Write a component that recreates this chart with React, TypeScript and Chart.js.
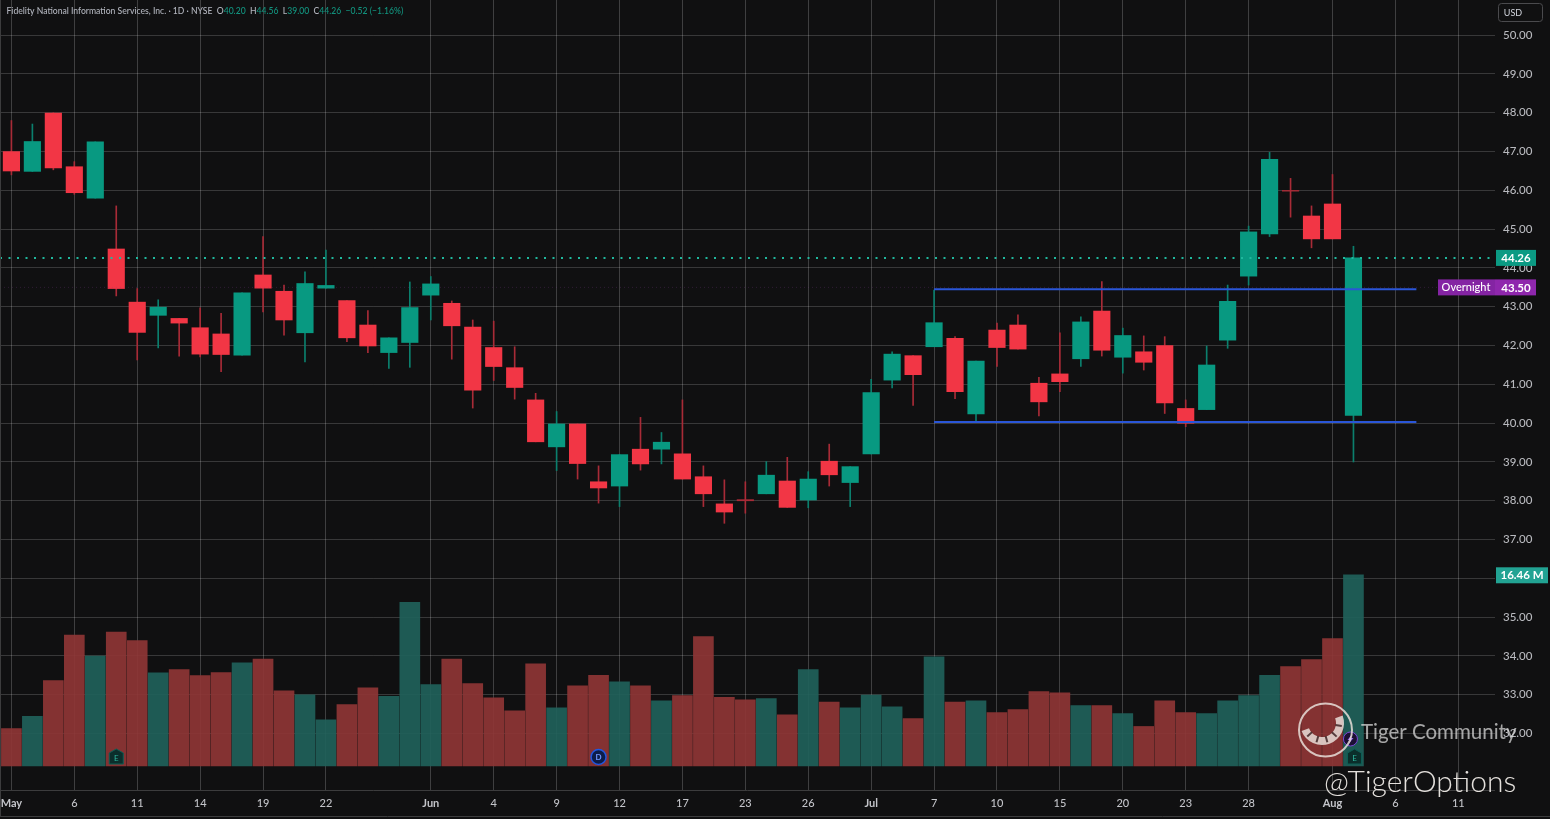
import React, { useEffect, useRef } from "react";
import { Chart, registerables } from "chart.js";

Chart.register(...registerables);

const opens = [47.0,46.49,47.99,46.61,45.8,44.49,43.12,42.78,42.7,42.46,42.3,41.75,43.82,43.4,42.33,43.48,43.16,42.53,41.82,42.08,43.3,43.09,42.48,41.95,41.43,40.6,39.39,39.98,38.49,38.38,39.33,39.33,39.21,38.62,37.92,38.03,38.18,38.51,38.02,39.02,38.47,39.21,41.11,41.74,41.97,42.19,40.24,42.4,42.53,41.03,41.27,41.66,42.89,41.7,41.84,42.0,40.38,40.35,42.14,43.79,44.88,46.0,45.34,45.65,40.2];
const closes = [46.5,47.26,46.58,45.94,47.25,43.47,42.34,42.99,42.58,41.78,41.77,43.36,43.48,42.66,43.6,43.55,42.2,41.99,42.2,42.98,43.59,42.51,40.85,41.46,40.92,39.52,39.98,38.96,38.33,39.19,38.95,39.51,38.56,38.18,37.71,38.0,38.66,37.83,38.56,38.67,38.88,40.79,41.78,41.25,42.59,40.81,41.6,41.95,41.91,40.55,41.07,42.61,41.88,42.26,41.57,40.52,40.0,41.5,43.14,44.93,46.8,45.98,44.75,44.75,44.26];
const highs = [47.8,47.71,48.0,46.74,47.25,45.6,43.47,43.18,42.7,42.97,42.83,43.36,44.81,43.56,43.9,44.46,43.16,42.9,42.2,43.64,43.78,43.15,42.66,42.63,41.97,40.77,40.3,39.98,38.9,39.19,40.15,39.76,40.6,38.9,38.54,38.49,39.01,39.12,38.75,39.46,38.88,41.13,41.84,41.74,43.43,42.23,41.6,42.58,42.79,41.18,42.33,42.74,43.65,42.45,42.25,42.23,40.6,41.99,43.56,45.08,46.98,46.31,45.6,46.41,44.56];
const lows = [46.4,46.49,46.53,45.9,45.8,43.28,41.63,41.94,41.73,41.71,41.33,41.75,42.87,42.27,41.58,43.48,42.1,41.82,41.41,41.44,42.66,41.65,40.39,41.1,40.62,39.52,38.78,38.56,37.94,37.85,38.79,38.95,38.56,37.85,37.42,37.68,38.18,37.83,37.82,38.38,37.85,39.21,40.91,40.46,41.97,40.63,40.04,41.46,41.91,40.19,40.81,41.46,41.73,41.29,41.37,40.25,39.91,40.35,41.93,43.56,44.81,45.31,44.52,44.75,39.0];
const volumes = [3.22,4.28,7.36,11.26,9.45,11.52,10.8,8.02,8.3,7.79,8.05,8.88,9.2,6.47,6.12,3.97,5.29,6.72,6.0,14.08,7.01,9.2,7.1,5.86,4.74,8.8,5.0,6.9,7.8,7.25,6.9,5.6,6.05,11.13,5.9,5.7,5.8,4.4,8.3,5.5,5.0,6.1,5.1,4.07,9.4,5.5,5.6,4.6,4.85,6.4,6.3,5.2,5.2,4.5,3.4,5.6,4.6,4.5,5.6,6.05,7.8,8.55,9.15,10.96,16.46];

const xTickIndex = [0,3,6,9,12,15,20,23,26,29,32,35,38,41,44,47,50,53,56,59,63,66,69];
const xTickLabels = ["May","6","11","14","19","22","Jun","4","9","12","17","23","26","Jul","7","10","15","20","23","28","Aug","6","11"];
const monthLabels = ["May","Jun","Jul","Aug"];
const priceTicks = [32,33,34,35,36,37,38,39,40,41,42,43,44,45,46,47,48,49,50];

const rangeTop = 43.45;
const rangeBottom = 40.03;
const rangeSpan = [44, 67];
const lastPrice = 44.26;
const overnightPrice = 43.5;
const lastVolume = 16.46;
const earningsBars = [5, 64];
const dividendBars = [28];
const splitBars = [64];

const xMin = -0.544;
const xMax = 70.75;
const yMin = 30.546;
const yMax = 50.907;
const vMin = -2.07;
const vMax = 65.95;

const BG = "#101011";
const RED = "#f23645";
const GREEN = "#089981";
const FONT = "Lato, 'Open Sans', sans-serif";

const up = (i: number) => closes[i] >= opens[i];
const idx = opens.map((_, i) => i);
const doji = (i: number) => Math.abs(closes[i] - opens[i]) < 0.05 && !up(i);

const zeroPadding = (s: any) => {
  s.paddingLeft = 0;
  s.paddingRight = 0;
  s.paddingTop = 0;
  s.paddingBottom = 0;
};

const tagsPlugin = {
  id: "tags",
  afterDraw(chart: any) {
    const { ctx, scales } = chart;
    const y = scales.y;
    const x = scales.x;
    const v = scales.v;
    ctx.save();

    // frame
    ctx.strokeStyle = "#3c3c3d";
    ctx.lineWidth = 1;
    ctx.beginPath();
    ctx.moveTo(0.5, 0);
    ctx.lineTo(0.5, 816);
    ctx.moveTo(0, 790.5);
    ctx.lineTo(1495, 790.5);
    ctx.moveTo(0, 816.5);
    ctx.lineTo(1550, 816.5);
    ctx.stroke();

    // title
    ctx.textBaseline = "middle";
    ctx.textAlign = "left";
    ctx.font = `500 8.6px ${FONT}`;
    const segs: [string, string][] = [
      ["Fidelity National Information Services, Inc. · 1D · NYSE  ", "#b2b5be"],
      ["O", "#b2b5be"], ["40.20 ", "#12947f"],
      [" H", "#b2b5be"], ["44.56 ", "#12947f"],
      [" L", "#b2b5be"], ["39.00 ", "#12947f"],
      [" C", "#b2b5be"], ["44.26  \u22120.52 (\u22121.16%)", "#12947f"],
    ];
    let tx = 6.5;
    for (const [t, c] of segs) {
      ctx.fillStyle = c;
      ctx.fillText(t, tx, 11);
      tx += ctx.measureText(t).width;
    }

    // USD box
    ctx.strokeStyle = "#4a4a4d";
    ctx.beginPath();
    ctx.roundRect(1498.5, 3.5, 44, 18, 3);
    ctx.stroke();
    ctx.fillStyle = "#d1d4dc";
    ctx.font = `9px ${FONT}`;
    ctx.textAlign = "center";
    ctx.fillText("USD", 1513, 13);

    // last price tag
    const tagFont = `700 11.5px ${FONT}`;
    const yLast = y.getPixelForValue(lastPrice);
    ctx.fillStyle = "#0b9a83";
    ctx.fillRect(1496, yLast - 8, 40, 16);
    ctx.fillStyle = "#fff";
    ctx.font = tagFont;
    ctx.fillText(lastPrice.toFixed(2), 1516, yLast + 0.5);

    // overnight tag
    const yOver = y.getPixelForValue(overnightPrice);
    ctx.fillStyle = "#8424a3";
    ctx.fillRect(1438, yOver - 8, 57, 16);
    ctx.fillStyle = "#8f27ad";
    ctx.fillRect(1495, yOver - 8, 41, 16);
    ctx.fillStyle = "#fff";
    ctx.font = `500 11px ${FONT}`;
    ctx.fillText("Overnight", 1466, yOver);
    ctx.font = tagFont;
    ctx.fillText(overnightPrice.toFixed(2), 1516, yOver + 0.5);

    // volume tag
    const yVol = v.getPixelForValue(lastVolume);
    ctx.fillStyle = "#22a393";
    ctx.fillRect(1496, yVol - 8 + 0.5, 52, 16);
    ctx.fillStyle = "#fff";
    ctx.font = tagFont;
    ctx.fillText(`${lastVolume.toFixed(2)} M`, 1522, yVol + 1);

    // earnings markers
    const markY = 757;
    for (const i of earningsBars) {
      const px = x.getPixelForValue(i) + (i === 64 ? 1 : 0);
      ctx.beginPath();
      ctx.moveTo(px, markY - 8);
      ctx.lineTo(px + 7, markY - 4);
      ctx.lineTo(px + 7, markY + 7);
      ctx.lineTo(px - 7, markY + 7);
      ctx.lineTo(px - 7, markY - 4);
      ctx.closePath();
      ctx.fillStyle = "#0b2e2b";
      ctx.fill();
      ctx.strokeStyle = "#0c5f55";
      ctx.stroke();
      ctx.fillStyle = "#2fb8a0";
      ctx.font = `8px ${FONT}`;
      ctx.fillText("E", px, markY + 1);
    }
    // dividend marker
    for (const i of dividendBars) {
      const px = x.getPixelForValue(i);
      ctx.beginPath();
      ctx.arc(px, markY, 7.5, 0, Math.PI * 2);
      ctx.fillStyle = "#0c1c4a";
      ctx.fill();
      ctx.strokeStyle = "#2157e0";
      ctx.lineWidth = 1.5;
      ctx.stroke();
      ctx.fillStyle = "#6f96ff";
      ctx.font = `bold 8px ${FONT}`;
      ctx.fillText("D", px, markY + 0.5);
    }
    // split-style purple marker
    for (const i of splitBars) {
      const px = x.getPixelForValue(i) - 3;
      ctx.beginPath();
      ctx.arc(px, 739, 7, 0, Math.PI * 2);
      ctx.fillStyle = "#1c0f33";
      ctx.fill();
      ctx.strokeStyle = "#7b45d6";
      ctx.lineWidth = 1;
      ctx.stroke();
      ctx.beginPath();
      ctx.moveTo(px + 2, 734);
      ctx.lineTo(px - 3, 740);
      ctx.lineTo(px, 740);
      ctx.lineTo(px - 2, 744);
      ctx.lineTo(px + 3, 738);
      ctx.lineTo(px, 738);
      ctx.closePath();
      ctx.fillStyle = "#9a6bf0";
      ctx.fill();
    }

    // watermark logo
    const lc = "rgba(232,222,216,0.85)";
    ctx.strokeStyle = lc;
    ctx.lineWidth = 2;
    ctx.beginPath();
    ctx.arc(1325.5, 730, 26.5, 0, Math.PI * 2);
    ctx.stroke();
    ctx.lineWidth = 8;
    ctx.beginPath();
    ctx.arc(1322, 723, 18, -0.35, Math.PI * 0.88);
    ctx.stroke();
    ctx.strokeStyle = "rgba(70,45,45,0.9)";
    ctx.lineWidth = 2;
    for (const a of [0.15, 0.75, 1.3, 1.85, 2.4]) {
      ctx.beginPath();
      ctx.moveTo(1322 + Math.cos(a) * 13.5, 723 + Math.sin(a) * 13.5);
      ctx.lineTo(1322 + Math.cos(a) * 20, 723 + Math.sin(a) * 20);
      ctx.stroke();
    }

    // watermark text
    ctx.textAlign = "left";
    ctx.fillStyle = "rgba(225,225,225,0.72)";
    ctx.font = `20.5px ${FONT}`;
    ctx.fillText("Tiger Community", 1361, 732);
    ctx.fillStyle = "rgba(240,236,232,0.95)";
    ctx.font = `300 30px ${FONT}`;
    ctx.fillText("@TigerOptions", 1324, 782);
    ctx.restore();
  },
};

export default function App() {
  const ref = useRef<HTMLCanvasElement | null>(null);
  useEffect(() => {
    if (!ref.current) return;
    const chart = new Chart(ref.current, {
      data: {
        datasets: [
          {
            type: "bar",
            yAxisID: "v",
            order: 6,
            grouped: false,
            barThickness: 20,
            data: idx.map((i) => ({ x: i, y: volumes[i] })),
            backgroundColor: idx.map((i) => (up(i) ? "rgba(31,97,90,0.92)" : "rgba(142,53,53,0.92)")),
          },
          {
            type: "bar",
            yAxisID: "y",
            order: 5,
            grouped: false,
            barThickness: 1,
            data: idx.map((i) => ({ x: i, y: [lows[i], highs[i]] })),
            backgroundColor: idx.map((i) => (up(i) ? "#0b7f6d" : "#a82b37")),
          },
          {
            type: "bar",
            yAxisID: "y",
            order: 4,
            grouped: false,
            barThickness: 16.5,
            data: idx.map((i) => ({ x: i, y: [opens[i], closes[i]] })),
            backgroundColor: idx.map((i) => (doji(i) ? "#a82b37" : up(i) ? GREEN : RED)),
          },
          {
            type: "line",
            yAxisID: "y",
            order: 3,
            data: [{ x: xMin, y: overnightPrice }, { x: xMax, y: overnightPrice }],
            borderColor: "rgba(130,60,150,0.28)",
            borderWidth: 1,
            borderDash: [1, 3],
            pointRadius: 0,
          },
          {
            type: "line",
            yAxisID: "y",
            order: 3,
            data: [{ x: xMin, y: lastPrice }, { x: xMax, y: lastPrice }],
            borderColor: "#20b89e",
            borderWidth: 2,
            borderDash: [2, 6.5],
            pointRadius: 0,
          },
          {
            type: "line",
            yAxisID: "y",
            order: 2,
            data: rangeSpan.map((s) => ({ x: s, y: rangeTop })),
            borderColor: "#2a56d8",
            borderWidth: 2,
            pointRadius: 0,
          },
          {
            type: "line",
            yAxisID: "y",
            order: 2,
            data: rangeSpan.map((s) => ({ x: s, y: rangeBottom })),
            borderColor: "#2a56d8",
            borderWidth: 2,
            pointRadius: 0,
          },
        ],
      } as any,
      options: {
        responsive: false,
        animation: false,
        devicePixelRatio: 1,
        layout: { padding: 0 },
        plugins: { legend: { display: false }, tooltip: { enabled: false } },
        scales: {
          x: {
            type: "linear",
            offset: false,
            min: xMin,
            max: xMax,
            afterBuildTicks: (s: any) => {
              s.ticks = xTickIndex.map((value) => ({ value }));
            },
            afterFit: (s: any) => {
              s.height = 29;
              zeroPadding(s);
            },
            grid: { offset: false, color: "rgba(255,255,255,0.2)", lineWidth: 1, drawTicks: false },
            border: { display: false },
            ticks: {
              autoSkip: false,
              maxRotation: 0,
              padding: 7,
              color: "#c3c4c9",
              font: (c: any) => ({
                family: FONT,
                size: 11,
                weight: monthLabels.includes(xTickLabels[xTickIndex.indexOf(c.tick?.value)]) ? 700 : 500,
              }),
              callback: (value: any) => xTickLabels[xTickIndex.indexOf(value)] ?? "",
            },
          },
          y: {
            type: "linear",
            position: "right",
            min: yMin,
            max: yMax,
            afterBuildTicks: (s: any) => {
              s.ticks = priceTicks.map((value) => ({ value }));
            },
            afterFit: (s: any) => {
              s.width = 55;
              zeroPadding(s);
            },
            grid: { color: "rgba(255,255,255,0.17)", lineWidth: 1, drawTicks: false },
            border: { display: false },
            ticks: {
              padding: 8,
              color: "#b8b9be",
              font: { family: FONT, size: 11.5, weight: 500 },
              callback: (value: any) => Number(value).toFixed(2),
            },
          },
          v: {
            type: "linear",
            display: false,
            min: vMin,
            max: vMax,
            grid: { display: false },
          },
        },
      } as any,
      plugins: [
        {
          id: "bg",
          beforeDraw(c: any) {
            c.ctx.save();
            c.ctx.fillStyle = BG;
            c.ctx.fillRect(0, 0, c.width, c.height);
            c.ctx.restore();
          },
        },
        tagsPlugin,
      ],
    } as any);
    return () => chart.destroy();
  }, []);
  return (
    <div style={{ position: "fixed", left: 0, top: 0, width: 1550, height: 819 }}>
      <canvas ref={ref} width={1550} height={819} style={{ display: "block", width: 1550, height: 819 }} />
    </div>
  );
}
